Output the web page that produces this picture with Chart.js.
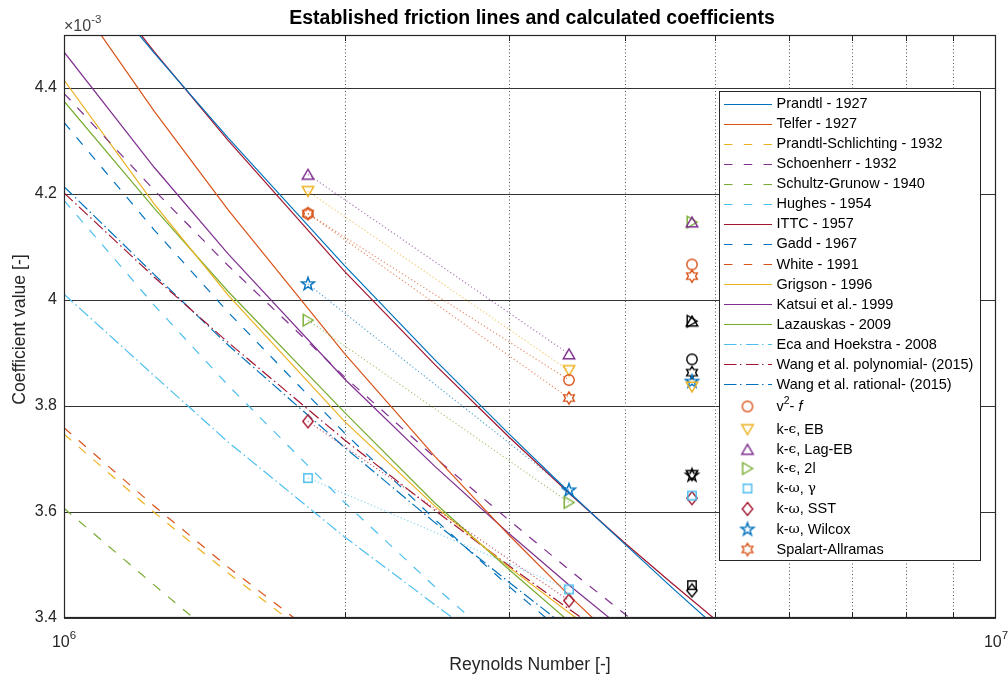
<!DOCTYPE html>
<html>
<head>
<meta charset="utf-8">
<title>Established friction lines and calculated coefficients</title>
<script src="https://cdn.jsdelivr.net/npm/chart.js@4/dist/chart.umd.min.js"></script>
<style>
  html, body { margin: 0; padding: 0; background: #fff; }
  canvas { display: block; }
</style>
</head>
<body>
<canvas id="frictionChart" width="1008" height="675"></canvas>
<script>
// SAMPLE REYNOLDS NUMBERS FOR THE FRICTION LINES
const reynolds = [1.0e6, 1.25e6, 1.5e6, 2.0e6, 2.5e6, 3.0e6, 3.5e6, 4.0e6, 4.5e6, 5.0e6];

// FRICTION LINES (Cf x 1e-3), read at the reynolds numbers above
const prandtl = [4.669, 4.466, 4.306, 4.065, 3.887, 3.748, 3.634, 3.539, 3.456, 3.384];
const telfer = [4.600, 4.356, 4.170, 3.899, 3.705, 3.557, 3.439, 3.342];
const prandtlSchlichting = [3.747, 3.599, 3.485, 3.316];
const schoenherr = [4.390, 4.207, 4.065, 3.855, 3.703, 3.585, 3.488, 3.407, 3.337];
const schultzGrunow = [3.607, 3.462, 3.345];
const hughes = [4.188, 3.990, 3.839, 3.618, 3.459, 3.337];
const ittc = [4.688, 4.468, 4.301, 4.054, 3.878, 3.742, 3.632, 3.541, 3.464, 3.397];
const gadd = [4.335, 4.132, 3.977, 3.749, 3.586, 3.460, 3.360];
const white = [3.759, 3.611, 3.496, 3.327];
const grigson = [4.415, 4.181, 4.009, 3.771, 3.611, 3.496, 3.407, 3.336];
const katsui = [4.468, 4.250, 4.087, 3.851, 3.686, 3.560, 3.459, 3.376];
const lazauskas = [4.375, 4.173, 4.016, 3.788, 3.617, 3.492, 3.390];
const ecaHoekstra = [4.011, 3.857, 3.732, 3.553, 3.425, 3.322];
const wangPolynomial = [4.202, 4.043, 3.920, 3.736, 3.603, 3.499, 3.414, 3.343];
const wangRational = [4.214, 4.048, 3.915, 3.722, 3.580, 3.468, 3.376];

// CALCULATED COEFFICIENTS (first two are joined by a dotted line)
const modelReynolds = [1.827e6, 3.482e6, 4.718e6];
const v2f = [4.163, 3.849, 4.067];
const kEpsEb = [4.205, 3.867, 3.836];
const kEpsLagEb = [4.237, 3.898, 4.147];
const kEps2l = [3.962, 3.618, 4.147];
const kOmegaGamma = [3.664, 3.454, 3.631];
const kOmegaSst = [3.771, 3.433, 3.626];
const kOmegaWilcox = [4.030, 3.641, 3.846];
const spalartAllmaras = [4.163, 3.815, 4.045];
// black markers at the last reynolds number, same model order as above
const blackMarkers = [3.888, 3.669, 3.960, 3.960, 3.462, 3.452, 3.669, 3.863];

// AXIS TICKS
const yTickValues = [3.4, 3.6, 3.8, 4.0, 4.2, 4.4];
const yTickLabels = ['3.4', '3.6', '3.8', '4', '4.2', '4.4'];
const xMinorTicks = [2e6, 3e6, 4e6, 5e6, 6e6, 7e6, 8e6, 9e6];
const xTickValues = [1e6, 1e7];
const xTickExponents = ['6', '7'];

// STYLES
const BLUE = '#0072BD', ORANGE = '#D95319', YELLOW = '#EDB120', PURPLE = '#7E2F8E';
const GREEN = '#77AC30', LIGHTBLUE = '#4DBEEE', DARKRED = '#A2142F';
const SOLID = [], DASH = [9.5, 10], DASHDOT = [12, 3.5, 1.5, 3.5];
const FONT = '"Liberation Sans", Arial, Helvetica, sans-serif';
const TEXT = '#262626';

const lineSeries = [
  { label: 'Prandtl - 1927', values: prandtl, color: BLUE, dash: SOLID },
  { label: 'Telfer - 1927', values: telfer, color: ORANGE, dash: SOLID },
  { label: 'Prandtl-Schlichting - 1932', values: prandtlSchlichting, color: YELLOW, dash: DASH },
  { label: 'Schoenherr - 1932', values: schoenherr, color: PURPLE, dash: DASH },
  { label: 'Schultz-Grunow - 1940', values: schultzGrunow, color: GREEN, dash: DASH },
  { label: 'Hughes - 1954', values: hughes, color: LIGHTBLUE, dash: DASH },
  { label: 'ITTC - 1957', values: ittc, color: DARKRED, dash: SOLID },
  { label: 'Gadd - 1967', values: gadd, color: BLUE, dash: DASH },
  { label: 'White - 1991', values: white, color: ORANGE, dash: DASH },
  { label: 'Grigson - 1996', values: grigson, color: YELLOW, dash: SOLID },
  { label: 'Katsui et al.- 1999', values: katsui, color: PURPLE, dash: SOLID },
  { label: 'Lazauskas - 2009', values: lazauskas, color: GREEN, dash: SOLID },
  { label: 'Eca and Hoekstra - 2008', values: ecaHoekstra, color: LIGHTBLUE, dash: DASHDOT },
  { label: 'Wang et al. polynomial- (2015)', values: wangPolynomial, color: DARKRED, dash: DASHDOT },
  { label: 'Wang et al. rational- (2015)', values: wangRational, color: BLUE, dash: DASHDOT },
];

// legend text parts: [text, kind]
const modelSeries = [
  { values: v2f, shape: 'circle', color: ORANGE, text: [['v'], ['2', 'sup'], ['- '], ['f', 'it']] },
  { values: kEpsEb, shape: 'down', color: YELLOW, text: [['k-'], ['\u03F5', 'greek'], [', EB']] },
  { values: kEpsLagEb, shape: 'up', color: PURPLE, text: [['k-'], ['\u03F5', 'greek'], [', Lag-EB']] },
  { values: kEps2l, shape: 'right', color: GREEN, text: [['k-'], ['\u03F5', 'greek'], [', 2l']] },
  { values: kOmegaGamma, shape: 'square', color: LIGHTBLUE, text: [['k-'], ['\u03C9', 'greek'], [', '], ['\u03B3', 'greek']] },
  { values: kOmegaSst, shape: 'diamond', color: DARKRED, text: [['k-'], ['\u03C9', 'greek'], [', SST']] },
  { values: kOmegaWilcox, shape: 'pentagram', color: BLUE, text: [['k-'], ['\u03C9', 'greek'], [', Wilcox']] },
  { values: spalartAllmaras, shape: 'hexagram', color: ORANGE, text: [['Spalart-Allramas']] },
];

function withAlpha(hex, a) {
  const n = parseInt(hex.slice(1), 16);
  return `rgba(${n >> 16}, ${(n >> 8) & 255}, ${n & 255}, ${a})`;
}

// MARKER IMAGES (matlab-like outlines)
function makeMarker(shape, color) {
  const s = 20, m = 10;
  const c = document.createElement('canvas');
  c.width = s; c.height = s;
  const g = c.getContext('2d');
  g.strokeStyle = color;
  g.lineWidth = 1.4;
  g.beginPath();
  const poly = (pts) => { pts.forEach(([px, py], i) => i ? g.lineTo(m + px, m + py) : g.moveTo(m + px, m + py)); g.closePath(); };
  const star = (n, ro, ri) => {
    const pts = [];
    for (let i = 0; i < 2 * n; i++) {
      const r = i % 2 ? ri : ro;
      const a = -Math.PI / 2 + i * Math.PI / n;
      pts.push([r * Math.cos(a), r * Math.sin(a)]);
    }
    poly(pts);
  };
  if (shape === 'circle') g.arc(m, m, 5.2, 0, 2 * Math.PI);
  else if (shape === 'square') g.rect(m - 4.2, m - 4.2, 8.4, 8.4);
  else if (shape === 'diamond') poly([[0, -6.5], [5.2, 0], [0, 6.5], [-5.2, 0]]);
  else if (shape === 'up') poly([[0, -5.2], [5.8, 4.8], [-5.8, 4.8]]);
  else if (shape === 'down') poly([[0, 5.2], [5.8, -4.8], [-5.8, -4.8]]);
  else if (shape === 'right') poly([[5.2, 0], [-4.8, -5.8], [-4.8, 5.8]]);
  else if (shape === 'pentagram') star(5, 6.8, 2.7);
  else if (shape === 'hexagram') star(6, 6.2, 3.6);
  g.stroke();
  return c;
}

const datasets = [];

lineSeries.forEach((s) => {
  datasets.push({
    label: s.label,
    data: s.values.map((v, i) => ({ x: reynolds[i], y: v })),
    showLine: true,
    borderColor: s.color,
    borderWidth: 1.2,
    borderDash: s.dash,
    pointRadius: 0,
    fill: false,
    order: 3,
  });
});

modelSeries.forEach((m, k) => {
  m.img = makeMarker(m.shape, m.color);
  m.blackImg = makeMarker(m.shape, '#000000');
  // dotted trace between the two lower reynolds numbers
  datasets.push({
    data: [0, 1].map((i) => ({ x: modelReynolds[i], y: m.values[i] })),
    showLine: true,
    borderColor: withAlpha(m.color, 0.65),
    borderWidth: 1.2,
    borderDash: [1.2, 2.4],
    pointRadius: 0,
    order: 2,
  });
  datasets.push({
    data: m.values.map((v, i) => ({ x: modelReynolds[i], y: v })),
    showLine: false,
    pointStyle: m.img,
    pointRadius: 6,
    order: 1,
  });
  datasets.push({
    data: [{ x: modelReynolds[2], y: blackMarkers[k] }],
    showLine: false,
    pointStyle: m.blackImg,
    pointRadius: 6,
    order: 1,
  });
});

function drawRich(ctx, parts, x, y, size) {
  parts.forEach(([t, kind]) => {
    let dy = 0;
    if (kind === 'sup') { ctx.font = `${size * 0.72}px ${FONT}`; dy = -5; }
    else if (kind === 'it') ctx.font = `italic ${size}px ${FONT}`;
    else if (kind === 'greek') ctx.font = `${size * 0.95}px "DejaVu Serif", serif`;
    else ctx.font = `${size}px ${FONT}`;
    ctx.fillText(t, x, y + dy);
    x += ctx.measureText(t).width;
  });
}

// DRAWS GRID, FRAME, TICKS, LABELS AND LEGEND THE WAY MATLAB DOES
const matlabAxes = {
  id: 'matlabAxes',
  beforeDatasetsDraw(chart) {
    const { ctx, chartArea: a, scales: { x, y } } = chart;
    ctx.save();
    ctx.lineWidth = 1;
    ctx.strokeStyle = '#333333';
    yTickValues.forEach((v) => {
      const py = Math.round(y.getPixelForValue(v)) + 0.5;
      ctx.beginPath(); ctx.moveTo(a.left, py); ctx.lineTo(a.right, py); ctx.stroke();
    });
    ctx.setLineDash([1, 2.5]);
    ctx.strokeStyle = '#555555';
    xMinorTicks.forEach((v) => {
      const px = Math.round(x.getPixelForValue(v)) + 0.5;
      ctx.beginPath(); ctx.moveTo(px, a.top); ctx.lineTo(px, a.bottom); ctx.stroke();
    });
    ctx.restore();
  },
  afterDatasetsDraw(chart) {
    const { ctx, chartArea: a, scales: { x, y } } = chart;
    ctx.save();

    // frame
    ctx.strokeStyle = TEXT;
    ctx.lineWidth = 1.2;
    ctx.strokeRect(a.left + 0.5, a.top + 0.5, a.right - a.left - 1, a.bottom - a.top - 1);

    // inward ticks
    ctx.lineWidth = 1;
    xMinorTicks.forEach((v) => {
      const px = Math.round(x.getPixelForValue(v)) + 0.5;
      ctx.beginPath();
      ctx.moveTo(px, a.bottom); ctx.lineTo(px, a.bottom - 6);
      ctx.moveTo(px, a.top); ctx.lineTo(px, a.top + 6);
      ctx.stroke();
    });

    // y tick labels
    ctx.fillStyle = TEXT;
    ctx.font = `16px ${FONT}`;
    ctx.textAlign = 'right';
    ctx.textBaseline = 'middle';
    yTickValues.forEach((v, i) => {
      ctx.fillText(yTickLabels[i], a.left - 7, y.getPixelForValue(v));
    });

    // x tick labels 10^n
    ctx.textAlign = 'left';
    ctx.textBaseline = 'alphabetic';
    xTickValues.forEach((v, i) => {
      const px = x.getPixelForValue(v);
      ctx.font = `16px ${FONT}`;
      const w1 = ctx.measureText('10').width;
      ctx.font = `11.5px ${FONT}`;
      const w2 = ctx.measureText(xTickExponents[i]).width;
      const x0 = px - (w1 + w2) / 2;
      ctx.font = `16px ${FONT}`;
      ctx.fillText('10', x0, a.bottom + 29);
      ctx.font = `11.5px ${FONT}`;
      ctx.fillText(xTickExponents[i], x0 + w1, a.bottom + 21);
    });

    // exponent label x10^-3
    ctx.fillStyle = '#404040';
    ctx.font = `16px ${FONT}`;
    ctx.fillText('\u00D710', a.left, 31);
    const wExp = ctx.measureText('\u00D710').width;
    ctx.font = `11.5px ${FONT}`;
    ctx.fillText('-3', a.left + wExp, 23);

    // title and axis labels
    ctx.fillStyle = '#000000';
    ctx.textAlign = 'center';
    ctx.textBaseline = 'middle';
    ctx.font = `bold 19.5px ${FONT}`;
    ctx.fillText('Established friction lines and calculated coefficients', (a.left + a.right) / 2 + 2, 19);
    ctx.fillStyle = TEXT;
    ctx.font = `17.6px ${FONT}`;
    ctx.fillText('Reynolds Number [-]', (a.left + a.right) / 2, 665);
    ctx.save();
    ctx.translate(20, (a.top + a.bottom) / 2 + 3);
    ctx.rotate(-Math.PI / 2);
    ctx.fillText('Coefficient value [-]', 0, 0);
    ctx.restore();

    // legend box
    const L = { left: 719, top: 91, right: 980, bottom: 560 };
    ctx.fillStyle = '#ffffff';
    ctx.fillRect(L.left, L.top, L.right - L.left, L.bottom - L.top);
    ctx.strokeStyle = TEXT;
    ctx.lineWidth = 1;
    ctx.strokeRect(L.left + 0.5, L.top + 0.5, L.right - L.left, L.bottom - L.top);

    ctx.textAlign = 'left';
    ctx.textBaseline = 'middle';
    lineSeries.forEach((s, i) => {
      const row = 104 + i * 20.07;
      const yy = 2 * Math.round(row / 2) + 0.5;
      ctx.strokeStyle = s.color;
      ctx.lineWidth = 1.2;
      ctx.setLineDash(s.dash === DASH ? [8.5, 11.25] : s.dash === DASHDOT ? [12.5, 3.5, 1.5, 4.5] : []);
      ctx.beginPath(); ctx.moveTo(724, yy); ctx.lineTo(772, yy); ctx.stroke();
      ctx.setLineDash([]);
      ctx.fillStyle = '#000000';
      ctx.font = `14.5px ${FONT}`;
      ctx.fillText(s.label, 776.5, row);
    });
    const markerRows = [406.5, 429.5, 449.5, 468.5, 488.5, 509, 529.5, 549.5];
    modelSeries.forEach((m, i) => {
      const yy = markerRows[i];
      ctx.drawImage(m.img, 747.5 - m.img.width / 2, yy - m.img.height / 2);
      ctx.fillStyle = '#000000';
      drawRich(ctx, m.text, 776.5, yy, 14.5);
    });

    ctx.restore();
  },
};

new Chart(document.getElementById('frictionChart'), {
  type: 'scatter',
  data: { datasets },
  options: {
    responsive: false,
    animation: false,
    devicePixelRatio: 1,
    layout: { padding: { left: 64, right: 12, top: 35, bottom: 57 } },
    scales: {
      x: { type: 'logarithmic', min: 1e6, max: 1e7, display: false },
      y: { type: 'linear', min: 3.4, max: 4.5, display: false },
    },
    plugins: {
      legend: { display: false },
      tooltip: { enabled: false },
    },
    elements: { line: { tension: 0 } },
  },
  plugins: [matlabAxes],
});
</script>
</body>
</html>
